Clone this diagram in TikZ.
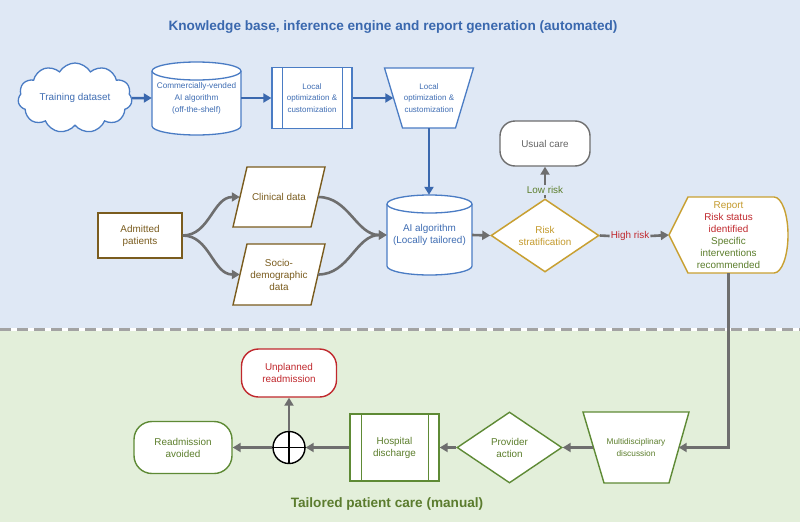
\documentclass[tikz,border=0pt]{standalone}
\usepackage{fontspec}
\setmainfont{Liberation Sans}
\usetikzlibrary{shapes.geometric,shapes.symbols,shapes.misc,arrows.meta,calc}
\pgfdeclarelayer{bg}\pgfdeclarelayer{shp}\pgfsetlayers{bg,shp,main}
\definecolor{bgBlue}{HTML}{DFE8F5}
\definecolor{bgGreen}{HTML}{E3EFDA}
\definecolor{titleBlue}{HTML}{3A68AE}
\definecolor{blueL}{HTML}{4A7CC4}
\definecolor{blueT}{HTML}{3F6DB3}
\definecolor{blueA}{HTML}{3A68AE}
\definecolor{grayA}{HTML}{6E6E6E}
\definecolor{grayT}{HTML}{666666}
\definecolor{brownC}{HTML}{7A5C1E}
\definecolor{goldC}{HTML}{C8A032}
\definecolor{goldT}{HTML}{C49A2C}
\definecolor{redC}{HTML}{C0282D}
\definecolor{greenC}{HTML}{5E8A35}
\definecolor{greenT}{HTML}{5C7E2C}
\definecolor{titleGreen}{HTML}{5B7C2E}
\definecolor{dashG}{HTML}{A3A3A3}
\newcommand\mycyl[6]{%
  \pgfmathsetmacro\mycylrx{(#2-#1)/2}%
  \filldraw[draw=#6, fill=white, line width=1.3pt] (#1,-#3-#5) -- (#1,-#4+#5)
    arc[start angle=180,end angle=360,x radius=\mycylrx pt,y radius=#5 pt]
    -- (#2,-#3-#5) arc[start angle=0,end angle=180,x radius=\mycylrx pt,y radius=#5 pt] -- cycle;
  \draw[draw=#6, line width=1.3pt] (#1,-#3-#5)
    arc[start angle=180,end angle=360,x radius=\mycylrx pt,y radius=#5 pt];
}
\begin{document}
\begin{tikzpicture}[x=1pt,y=1pt,
  every node/.style={font=\fontsize{9.9}{12}\selectfont, align=center, inner sep=1pt},
  small/.style={font=\fontsize{8.2}{12}\selectfont},
  garrow/.style={draw=grayA, line width=2.6pt, -{Triangle[length=8pt,width=9pt]}},
  gline/.style={draw=grayA, line width=2.6pt},
  barrow/.style={draw=blueA, line width=2.5pt, -{Triangle[length=8pt,width=9pt]}},
  bluebox/.style={draw=blueL, fill=white, line width=1.3pt, text=blueT},
  greenbox/.style={draw=greenC, fill=white, line width=1.4pt, text=greenT},
  shapeline/.style={line width=1.4pt, fill=white},
]
\useasboundingbox (0,0) rectangle (800,-522);
\begin{pgfonlayer}{bg}
  \fill[bgBlue] (0,0) rectangle (800,-329);
  \fill[bgGreen] (0,-329) rectangle (800,-522);
  \draw[white, line width=3pt] (0,-329) -- (800,-329);
  \draw[dashG, line width=3pt, dash pattern=on 11pt off 6pt] (0,-329) -- (800,-329);
\end{pgfonlayer}

% titles
\node[font=\fontsize{13.6}{16}\selectfont\bfseries, text=titleBlue] (t1) at (393,-27)
  {Knowledge base, inference engine and report generation (automated)};
\node[font=\fontsize{13.6}{16}\selectfont\bfseries, text=titleGreen] (t2) at (387,-504)
  {Tailored patient care (manual)};

% ---- top row
\node[cloud, cloud puffs=11, cloud puff arc=120, cloud ignores aspect, bluebox,
      minimum width=114, minimum height=70] (train) at (75,-98) {Training dataset};

\begin{pgfonlayer}{shp}
  \mycyl{152}{241}{62}{135}{9}{blueL}
  \mycyl{387}{472}{195}{275}{9}{blueL}
  % trapezoid local optimization
  \filldraw[shapeline, draw=blueL, line width=1.3pt] (384.5,-68) -- (473.5,-68) -- (455.5,-128) -- (402.5,-128) -- cycle;
  % parallelograms
  \filldraw[shapeline, draw=brownC] (247,-167) -- (325,-167) -- (311,-227) -- (233,-227) -- cycle;
  \filldraw[shapeline, draw=brownC] (247,-244) -- (325,-244) -- (311,-305) -- (233,-305) -- cycle;
  % report display shape
  \filldraw[shapeline, draw=goldC] (669,-235) -- (688,-197) -- (774,-197)
     arc[start angle=90,end angle=-90,x radius=14pt,y radius=38pt] -- (688,-273) -- cycle;
  % multidisciplinary trapezoid
  \filldraw[shapeline, draw=greenC] (583,-412) -- (689,-412) -- (669,-483) -- (604,-483) -- cycle;
\end{pgfonlayer}

\node[small, text=blueT, minimum width=89, minimum height=73] (comm) at (196.5,-98)
  {Commercially-vended\\AI algorithm\\(off-the-shelf)};
\node[bluebox, font=\fontsize{8}{11.3}\selectfont, minimum width=80, minimum height=61] (loc1) at (312,-98)
  {Local\\optimization \&\\customization};
\draw[blueL, line width=1.3pt] ([xshift=11pt]loc1.north west) -- ([xshift=11pt]loc1.south west);
\draw[blueL, line width=1.3pt] ([xshift=-10pt]loc1.north east) -- ([xshift=-10pt]loc1.south east);
\node[text=blueT, font=\fontsize{8}{11.3}\selectfont, minimum width=71, minimum height=60] (loc2) at (429,-98)
  {Local\\optimization \&\\customization};

\node[draw=grayA, fill=white, line width=1.4pt, text=grayT, rounded corners=15pt,
      minimum width=90, minimum height=45] (usual) at (545,-143.5) {Usual care};

% ---- middle row
\node[draw=brownC, fill=white, line width=1.5pt, text=brownC, minimum width=84, minimum height=45]
  (adm) at (140,-235.5) {Admitted\\patients};
\node[text=brownC, minimum width=78, minimum height=60] (clin) at (279,-197) {Clinical data};
\node[text=brownC, minimum width=78, minimum height=61] (socio) at (279,-274.5) {Socio-\\demographic\\data};
\node[text=blueT, minimum width=85, minimum height=80] (ai) at (429.5,-235) {AI algorithm\\(Locally tailored)};
\node[diamond, draw=goldC, fill=white, line width=1.5pt, text=goldT, inner sep=0pt,
      minimum width=108, minimum height=73] (risk) at (545,-235.5) {Risk\\stratification};
\node[text=greenT] (low) at (545,-190) {Low risk};
\node[text=redC] (high) at (630,-236) {High risk};
\node[minimum width=119, minimum height=76] (report) at (728.5,-235)
  {{\color{goldT}Report}\\{\color{redC}Risk status}\\{\color{redC}identified}\\{\color{greenT}Specific}\\{\color{greenT}interventions}\\{\color{greenT}recommended}};

% ---- bottom row
\node[text=greenT, font=\fontsize{8.3}{11.5}\selectfont, minimum width=85, minimum height=71] (multi) at (636,-447.5)
  {Multidisciplinary\\discussion};
\node[diamond, greenbox, inner sep=0pt, minimum width=105, minimum height=71] (prov) at (509.5,-447.5)
  {Provider\\action};
\node[greenbox, minimum width=89, minimum height=67] (hosp) at (394.5,-447.5) {Hospital\\discharge};
\draw[greenC, line width=1.4pt] ([xshift=12pt]hosp.north west) -- ([xshift=12pt]hosp.south west);
\draw[greenC, line width=1.4pt] ([xshift=-11pt]hosp.north east) -- ([xshift=-11pt]hosp.south east);
\node[circle, draw=black, fill=white, line width=1.4pt, minimum size=32, inner sep=0pt] (xor) at (289,-447.5) {};
\draw[black, line width=1.4pt] (xor.north) -- (xor.south) (xor.west) -- (xor.east);
\node[greenbox, rounded corners=18pt, minimum width=98, minimum height=52] (avoid) at (183,-447.5) {Readmission\\avoided};
\node[draw=redC, fill=white, line width=1.4pt, text=redC, rounded corners=17pt,
      minimum width=95, minimum height=48] (unpl) at (289,-373) {Unplanned\\readmission};

% ---- connectors
\draw[barrow] (train.east) -- (comm.west);
\draw[barrow] (comm.east) -- (loc1.west);
\draw[barrow] (loc1.east) -- (loc2.west);
\draw[barrow] (loc2.south) -- (loc2.south |- ai.north);
\draw[garrow] (adm.east) to[out=0,in=180] (clin.west);
\draw[garrow] (adm.east) to[out=0,in=180] (socio.west);
\draw[garrow] (clin.east) to[out=0,in=180] (ai.west);
\draw[garrow] (socio.east) to[out=0,in=180] (ai.west);
\draw[garrow] (ai.east) -- (risk.west);
\draw[gline] (risk.north) -- (low.south);
\draw[garrow] (low.north) -- (usual.south);
\draw[gline] (risk.east) -- (high.west);
\draw[garrow] (high.east) -- (report.west);
\coordinate (turn) at (report.south |- multi.east);
\draw[garrow] (report.south) -- (turn) -- (multi.east);
\draw[garrow] (multi.west) -- (prov.east);
\draw[garrow] (prov.west) -- (hosp.east);
\draw[garrow] (hosp.west) -- (xor.east);
\draw[garrow] (xor.west) -- (avoid.east);
\draw[garrow] (xor.north) -- (unpl.south);
\end{tikzpicture}
\end{document}
